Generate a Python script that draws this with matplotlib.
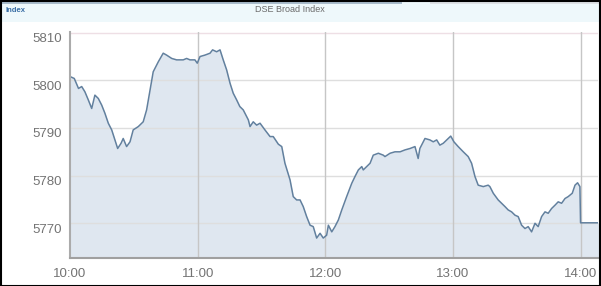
import matplotlib
matplotlib.use("Agg")
import matplotlib.pyplot as plt
import matplotlib.transforms as mtrans
from matplotlib.patches import Rectangle

plt.rcParams['font.family'] = ['Liberation Sans', 'DejaVu Sans']

# minutes after 10:00
minutes = [0, 2, 4, 5.5, 7, 8.6, 10.2, 11.7, 13.3, 14.9, 16.4, 18, 19.6, 21.1, 22.4, 24, 25,
           26.6, 28.2, 29.7, 32.1, 34.4, 36, 37.6, 39.1, 41.5, 43.8, 45.4, 47.8, 50.1, 53.2,
           54.8, 56.4, 58.7, 59.8, 61.1, 63.4, 65.8, 67, 68.9, 70.5, 72, 73.6, 75.2, 76.7,
           78.3, 79.8, 81.4, 83.8, 84.6, 86.1, 87.7, 89.3, 91.6, 94, 95.5, 97.9, 99.5, 101,
           103.4, 104.9, 106.5, 108.1, 109.6, 111.2, 112.8, 114.3, 115.9, 117.5, 119, 120.6,
           121.4, 123, 124.5, 126.1, 127.7, 130, 132.4, 133.9, 135.5, 137.1, 137.8, 139.4,
           141, 142.5, 144.9, 147.2, 148, 150.4, 152.7, 155.1, 157.4, 159.8, 162.1, 163.6,
           164.4, 166.8, 169.1, 170.7, 172.3, 173.8, 175.4, 177, 178.9, 180.4, 182.4, 184.8,
           187.1, 188.7, 190.3, 191.8, 194.2, 196.5, 197.3, 198.9, 201.2, 202.8, 204.4, 205.9,
           207.5, 209.1, 210.6, 212.2, 213.8, 215.3, 216.9, 218.5, 220, 221.6, 223.2, 224.7,
           226.3, 227.9, 229.4, 231, 232.6, 234.1, 236, 237.3, 238.5, 239.6, 239.9, 250]
index_values = [5800.8, 5800.4, 5798.3, 5798.7, 5797.6, 5795.9, 5794.1, 5796.9, 5796.2, 5794.8,
                5793.1, 5791.0, 5789.6, 5787.5, 5785.7, 5786.8, 5787.8, 5786.1, 5787.1, 5789.6,
                5790.3, 5791.3, 5793.8, 5798.0, 5801.8, 5803.9, 5805.7, 5805.3, 5804.6, 5804.3,
                5804.3, 5804.6, 5804.3, 5804.3, 5803.6, 5805.0, 5805.3, 5805.7, 5806.4, 5806.0,
                5806.4, 5804.3, 5802.2, 5799.4, 5797.3, 5795.9, 5794.5, 5793.8, 5791.7, 5790.3,
                5791.3, 5790.6, 5791.0, 5789.6, 5788.2, 5788.2, 5786.6, 5786.1, 5782.6, 5779.1,
                5775.6, 5774.9, 5774.9, 5773.5, 5771.4, 5769.6, 5769.3, 5766.9, 5767.9, 5766.9,
                5767.5, 5769.6, 5768.2, 5769.3, 5770.7, 5772.8, 5775.6, 5778.4, 5779.8, 5781.2,
                5781.9, 5781.2, 5781.9, 5782.6, 5784.3, 5784.7, 5784.3, 5784.0, 5784.7, 5785.0,
                5785.0, 5785.4, 5785.7, 5786.1, 5783.6, 5785.7, 5787.8, 5787.5, 5787.1, 5787.5,
                5786.4, 5786.8, 5787.5, 5788.3, 5787.1, 5786.1, 5785.0, 5784.0, 5782.6, 5779.8,
                5778.0, 5777.7, 5778.0, 5777.7, 5776.3, 5774.9, 5774.2, 5773.5, 5772.8, 5772.4,
                5771.7, 5771.4, 5769.6, 5768.9, 5769.3, 5768.2, 5770.0, 5769.3, 5771.4, 5772.4,
                5772.1, 5773.1, 5773.8, 5774.5, 5774.2, 5775.2, 5775.6, 5776.3, 5778.0, 5778.5,
                5777.7, 5770.1, 5770.1]

x_ticks = [0, 60, 120, 180, 240]
x_tick_labels = ["10:00", "11:00", "12:00", "13:00", "14:00"]
y_ticks = [5770, 5780, 5790, 5800, 5810]
y_tick_labels = ["5770", "5780", "5790", "5800", "5810"]
title_text = "DSE Broad Index"
left_label = "Index"

W, H = 601, 286
fig = plt.figure(figsize=(W / 100, H / 100), dpi=100)
fig.patch.set_facecolor("white")

# header band
fig.patches.append(Rectangle((0, 1 - 22 / H), 1, 20 / H, transform=fig.transFigure,
                             facecolor="#eef8fb", edgecolor="none", zorder=0))
fig.patches.append(Rectangle((0, 1 - 4 / H), 402 / W, 2 / H, transform=fig.transFigure,
                             facecolor="#a9bccb", edgecolor="none", zorder=1))
fig.patches.append(Rectangle((430 / W, 1 - 4 / H), 170 / W, 2 / H, transform=fig.transFigure,
                             facecolor="#dde1e5", edgecolor="none", zorder=1))
fig.text(5 / W, 1 - 10 / H, left_label, fontsize=5.5, color="#3a6ea5", fontweight="bold",
         ha="left", va="center")
fig.text(290 / W, 1 - 10 / H, title_text, fontsize=6.5, color="#6a6a6a",
         ha="center", va="center")

ax_left, ax_right = 70 / W, 598 / W
ax_top, ax_bottom = 1 - 32 / H, 1 - 258.3 / H
ax = fig.add_axes([ax_left, ax_bottom, ax_right - ax_left, ax_top - ax_bottom])
ax.set_facecolor("white")

ymin, ymax = 5762.65, 5810.15
ax.set_xlim(0, 248.1)
ax.set_ylim(ymin, ymax)

ax.fill_between(minutes, index_values, ymin, color="#dfe7f0", zorder=1, linewidth=0)
ax.plot(minutes, index_values, color="#62809e", linewidth=1.1, zorder=3)

# grid
for yv in y_ticks:
    ax.axhline(yv, color="#eedfe5" if yv == 5810 else "#dedede", linewidth=1.0, zorder=2)
for xv in x_ticks[1:]:
    ax.axvline(xv, color="#c6c6c6", linewidth=1.0, zorder=2)

for s in ["top", "right"]:
    ax.spines[s].set_visible(False)
ax.spines["left"].set_color("#ababab")
ax.spines["left"].set_linewidth(1.5)
ax.spines["bottom"].set_color("#a0a0a0")
ax.spines["bottom"].set_linewidth(1.5)
for s in ["left", "bottom"]:
    ax.spines[s].set_zorder(4)

ax.set_xticks(x_ticks)
ax.set_xticklabels(x_tick_labels)
ax.set_yticks(y_ticks)
ax.set_yticklabels(y_tick_labels)
ax.tick_params(axis="both", length=0, labelsize=9.5, labelcolor="#737373")
ax.tick_params(axis="x", pad=7)
ax.tick_params(axis="y", pad=6)
offset = mtrans.ScaledTranslation(0, -5 / 100, fig.dpi_scale_trans)
for lab in ax.get_yticklabels():
    lab.set_transform(lab.get_transform() + offset)

# outer black frame
fig.patches.append(Rectangle((0.5 / W, 0.5 / H), (W - 1.5) / W, (H - 1.5) / H,
                             transform=fig.transFigure, facecolor="none",
                             edgecolor="black", linewidth=1.5, zorder=10))

fig.savefig("out.png", dpi=100)
